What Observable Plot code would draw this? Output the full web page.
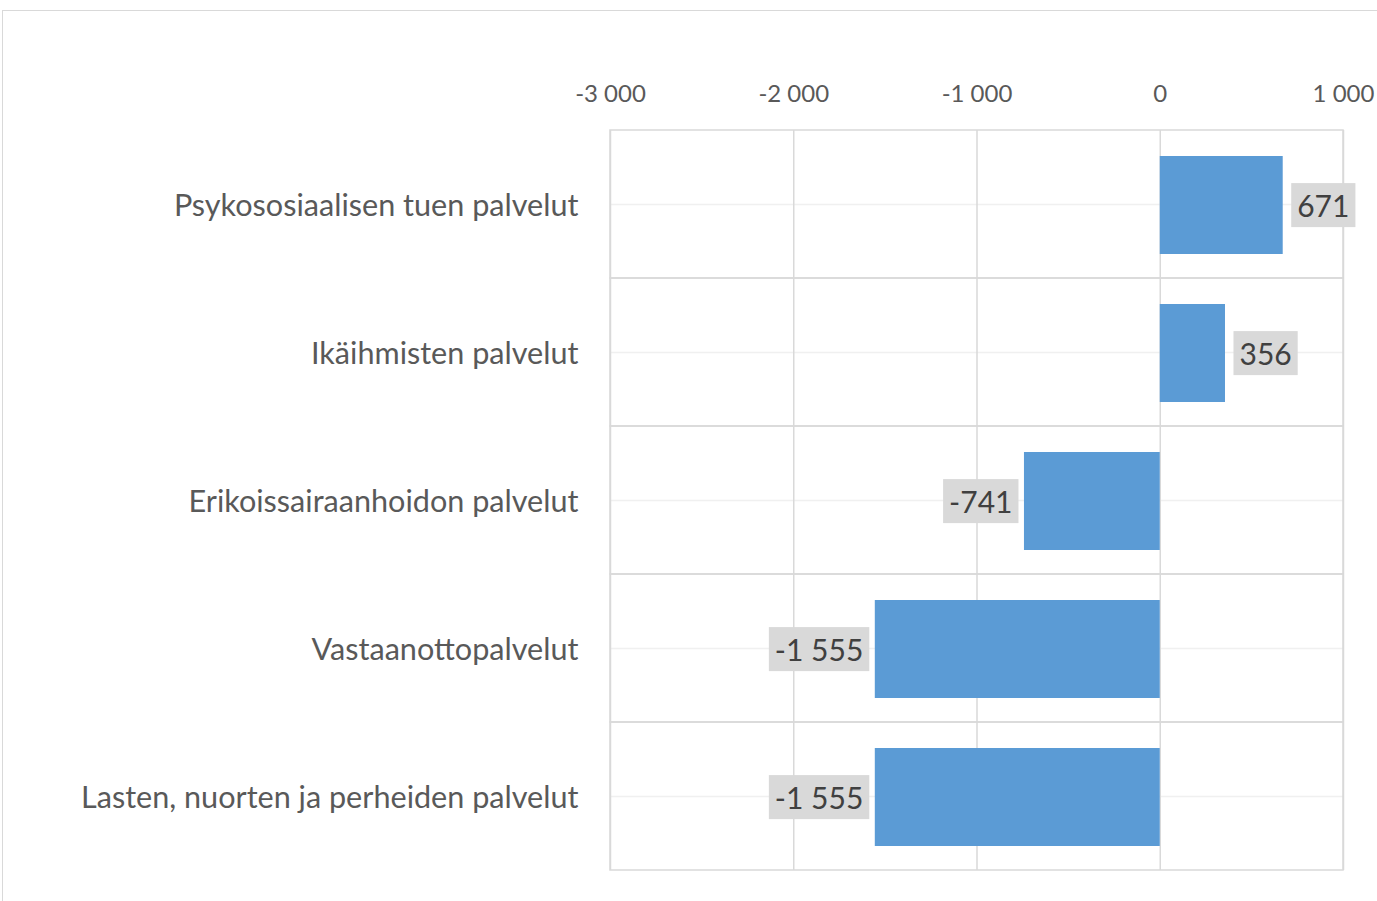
<!DOCTYPE html>
<html>
<head>
<meta charset="utf-8">
<script src="https://cdn.jsdelivr.net/npm/d3@7"></script>
<script src="https://cdn.jsdelivr.net/npm/@observablehq/plot@0.6"></script>
<style>
  html, body { margin: 0; padding: 0; background: #fff; }
  #wrap { position: relative; width: 1377px; height: 901px; overflow: hidden; }
  #frame { position: absolute; left: 2px; top: 10px; width: 1400px; height: 900px;
           border-top: 1.5px solid #d9d9d9; border-left: 1.5px solid #d9d9d9; box-sizing: border-box; }
  #chart { position: absolute; left: 0; top: 0; }
</style>
</head>
<body>
<div id="wrap"><div id="frame"></div><div id="chart"></div></div>
<script>
const categories = [
  "Psykososiaalisen tuen palvelut",
  "Ikäihmisten palvelut",
  "Erikoissairaanhoidon palvelut",
  "Vastaanottopalvelut",
  "Lasten, nuorten ja perheiden palvelut"
];
const values = [671, 356, -741, -1555, -1555];
const xTicks = [-3000, -2000, -1000, 0, 1000];
const xDomain = [-3000, 1000];

const data = categories.map((c, i) => ({category: c, value: values[i]}));
const locale = d3.formatLocale({decimal: ",", thousands: "\u00a0", grouping: [3], currency: ["", " €"], minus: "-"});
const fmt = locale.format(",d");
const FONT = "Lato, 'Open Sans', sans-serif";

const labelOpts = {x: "value", y: "category", text: d => fmt(d.value), fontSize: 30, fill: "#404040", dy: 3, className: "vlabel"};

const chart = Plot.plot({
  width: 1377,
  height: 901,
  marginLeft: 610,
  marginRight: 34,
  marginTop: 130,
  marginBottom: 31,
  style: {fontFamily: FONT, background: "transparent"},
  x: {domain: xDomain, ticks: xTicks, tickFormat: fmt, label: null},
  y: {domain: categories, padding: 0, label: null},
  marks: [
    Plot.ruleY(categories, {y: d => d, stroke: "#f0f0f0", strokeWidth: 1.5}),
    Plot.ruleX(xTicks, {stroke: "#d9d9d9", strokeWidth: 1.5}),
    Plot.barX(categories, {y: d => d, x1: () => xDomain[0], x2: () => xDomain[1], fill: "none", stroke: "#d9d9d9", strokeWidth: 1.5}),
    Plot.barX(data, {x: "value", y: "category", fill: "#5b9bd5", insetTop: 26, insetBottom: 24}),
    Plot.axisX({anchor: "top", ticks: xTicks, tickFormat: fmt, tickSize: 0, tickPadding: 29, fontSize: 24, fill: "#595959", label: null}),
    Plot.axisY({anchor: "left", tickSize: 0, tickPadding: 32, fontSize: 30.6, dy: 2, fill: "#595959", label: null}),
    Plot.text(data.filter(d => d.value >= 0), {...labelOpts, dx: 14, textAnchor: "start"}),
    Plot.text(data.filter(d => d.value < 0), {...labelOpts, dx: -12, textAnchor: "end"})
  ]
});

document.getElementById("chart").append(chart);

// gray background boxes behind the value labels
const ns = "http://www.w3.org/2000/svg";
const rootM = chart.getScreenCTM().inverse();
const boxes = document.createElementNS(ns, "g");
chart.querySelectorAll(".vlabel text").forEach(t => {
  const b = t.getBBox();
  const m = rootM.multiply(t.getScreenCTM());
  const p1 = new DOMPoint(b.x, b.y).matrixTransform(m);
  const p2 = new DOMPoint(b.x + b.width, b.y + b.height).matrixTransform(m);
  const px = 6, py = 4;
  const r = document.createElementNS(ns, "rect");
  r.setAttribute("x", p1.x - px);
  r.setAttribute("y", p1.y - py);
  r.setAttribute("width", (p2.x - p1.x) + 2 * px);
  r.setAttribute("height", (p2.y - p1.y) + 2 * py);
  r.setAttribute("fill", "#d9d9d9");
  boxes.append(r);
});
const firstLabel = chart.querySelector(".vlabel");
if (firstLabel) firstLabel.parentNode.insertBefore(boxes, firstLabel);
</script>
</body>
</html>
